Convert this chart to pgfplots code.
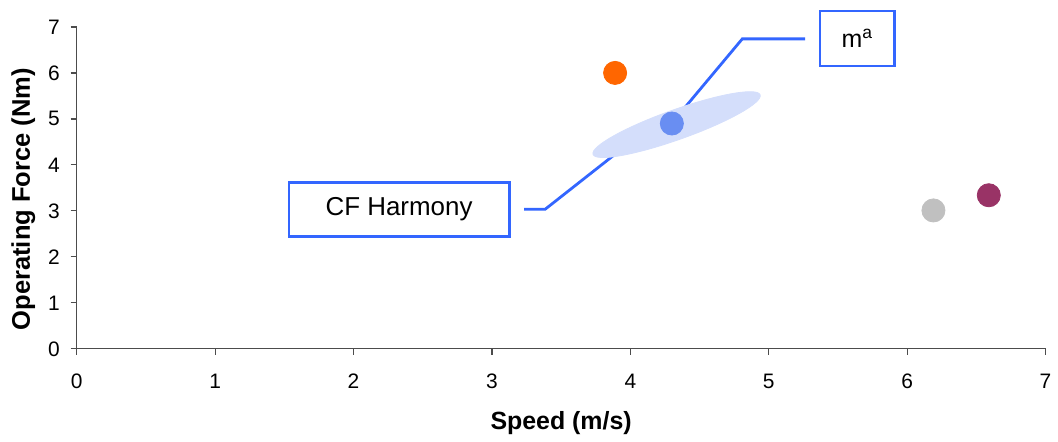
\documentclass[border=0pt]{standalone}
\usepackage{pgfplots}
\pgfplotsset{compat=1.18}
\usepackage{fontspec}
\setmainfont{Liberation Sans}
\definecolor{cforange}{RGB}{255,102,0}
\definecolor{cfgray}{RGB}{192,192,192}
\definecolor{cfpurple}{RGB}{153,51,102}
\definecolor{cfblue}{RGB}{105,142,242}
\definecolor{cfell}{RGB}{212,222,251}
\definecolor{cfline}{RGB}{51,102,255}
\begin{document}
\begin{tikzpicture}
\begin{axis}[
  scale only axis,
  width=486pt, height=161.5pt,
  xmin=0, xmax=7, ymin=0, ymax=7,
  xtick={0,1,...,7}, ytick={0,1,...,7},
  axis lines=left,
  axis line style={-, draw=black!70, line width=0.6pt},
  tick style={draw=black!70, line width=0.6pt},
  xtick align=outside, ytick align=outside,
  major tick length=3pt,
  clip=false,
  tick label style={font=\fontsize{10.5}{12}\selectfont},
  /pgf/number format/assume math mode=true,
  xticklabel style={yshift=-6pt},
  yticklabel style={xshift=-2pt},
  xlabel={\textbf{Speed (m/s)}},
  ylabel={\textbf{Operating Force (Nm)}},
  label style={font=\fontsize{12.5}{14}\selectfont},
  xlabel style={at={(axis description cs:0.5,-0.232)}, anchor=center},
  ylabel style={at={(axis description cs:-0.055,0.465)}, anchor=center, font=\fontsize{12.8}{14}\selectfont},
]
% bounding box of the whole figure
\path (rel axis cs:-0.0792,-0.2817) rectangle (rel axis cs:1.00926,1.0836);
% CF Harmony region (ellipse)
\addplot[only marks, mark=*, mark size=1pt, color=cfell,
  mark options={rotate=19.6, xscale=44.5, yscale=7.5}]
  coordinates {(4.334,4.876)};
% callouts
\draw[cfline, line width=1.4pt] (axis cs:5.263,6.740) -- (axis cs:4.809,6.740) -- (axis cs:4.363,5.136);
\draw[cfline, line width=1.4pt] (axis cs:3.233,3.034) -- (axis cs:3.384,3.034) -- (axis cs:3.924,4.313);
% data points
\addplot[only marks, mark=*, mark size=5.8pt, color=cfblue]
  coordinates {(4.30,4.90)};
\addplot[only marks, mark=*, mark size=5.8pt, color=cforange]
  coordinates {(3.89,6.00)};
\addplot[only marks, mark=*, mark size=5.8pt, color=cfgray]
  coordinates {(6.19,3.01)};
\addplot[only marks, mark=*, mark size=5.8pt, color=cfpurple]
  coordinates {(6.59,3.34)};
\node[draw=cfline, line width=1.3pt, fill=white, minimum width=37.5pt, minimum height=27.5pt,
  inner sep=0pt, font=\fontsize{12.5}{14}\selectfont] at (axis cs:5.64,6.75) {m\textsuperscript{a}};
\node[draw=cfline, line width=1.3pt, fill=white, minimum width=110.5pt, minimum height=27pt,
  inner sep=0pt, font=\fontsize{13}{15}\selectfont] at (axis cs:2.329,3.034) {CF Harmony};
\end{axis}
\end{tikzpicture}
\end{document}
